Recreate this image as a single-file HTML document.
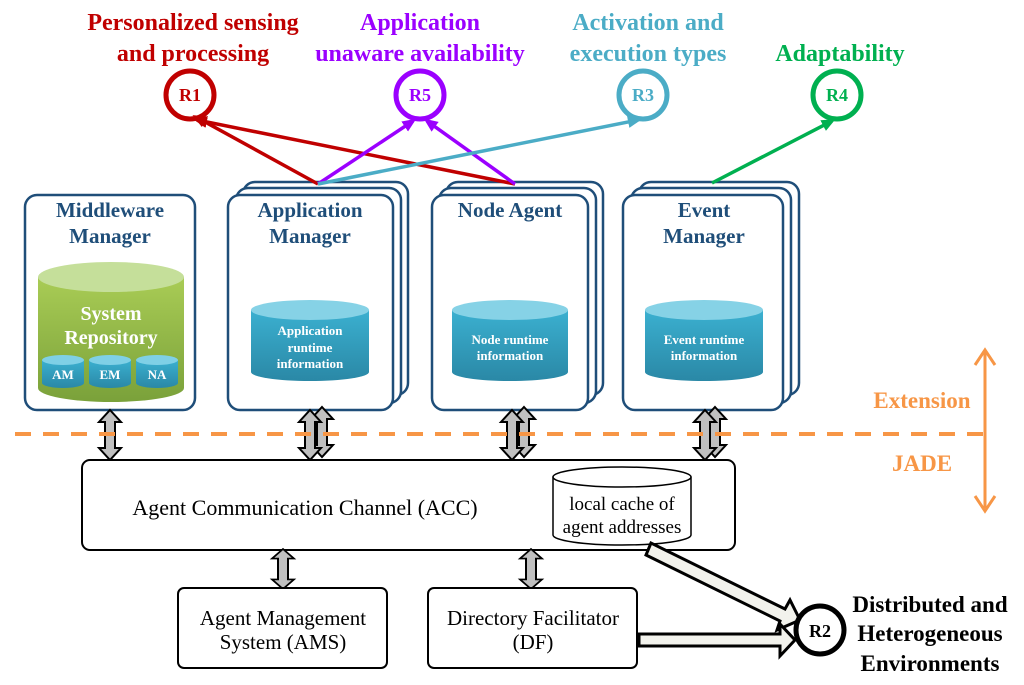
<!DOCTYPE html>
<html><head><meta charset="utf-8"><style>body{margin:0;background:#fff}svg{display:block}</style></head><body>
<svg width="1024" height="685" viewBox="0 0 1024 685" xmlns="http://www.w3.org/2000/svg" font-family="Liberation Serif, serif">
<defs>
<linearGradient id="g" x1="0" y1="0" x2="0" y2="1"><stop offset="0" stop-color="#a9cc55"/><stop offset="1" stop-color="#7aa13a"/></linearGradient>
<linearGradient id="b" x1="0" y1="0" x2="0" y2="1"><stop offset="0" stop-color="#3bb0d0"/><stop offset="1" stop-color="#2a88a6"/></linearGradient>
<marker id="ar" markerWidth="14" markerHeight="12" refX="10" refY="6" orient="auto" markerUnits="userSpaceOnUse" viewBox="0 0 14 12"><path d="M0,0 L14,6 L0,12 z" fill="context-stroke"/></marker>
<g id="dbl"><path d="M0,-25 L11,-13 L5,-13 L5,13 L11,13 L0,25 L-11,13 L-5,13 L-5,-13 L-11,-13 Z" fill="#c0c0c0" stroke="#000" stroke-width="2"/></g>
</defs>
<g font-weight="bold" font-size="24" text-anchor="middle">
<text x="193" y="30" fill="#c00000">Personalized sensing</text>
<text x="193" y="61" fill="#c00000">and processing</text>
<text x="420" y="30" fill="#9b00ff">Application</text>
<text x="420" y="61" fill="#9b00ff">unaware availability</text>
<text x="648" y="30" fill="#4bacc6">Activation and</text>
<text x="648" y="61" fill="#4bacc6">execution types</text>
<text x="840" y="61" fill="#00b050">Adaptability</text>
</g>
<g fill="none" stroke-width="5">
<circle cx="190" cy="95" r="24" stroke="#c00000"/>
<circle cx="420" cy="95" r="24" stroke="#9b00ff"/>
<circle cx="643" cy="95" r="24" stroke="#4bacc6"/>
<circle cx="837" cy="95" r="24" stroke="#00b050"/>
</g>
<g font-weight="bold" font-size="18" text-anchor="middle">
<text x="190" y="101" fill="#c00000">R1</text>
<text x="420" y="101" fill="#9b00ff">R5</text>
<text x="643" y="101" fill="#4bacc6">R3</text>
<text x="837" y="101" fill="#00b050">R4</text>
</g>
<g fill="#fff" stroke="#1f4e79" stroke-width="2.5">
<rect x="25" y="195" width="170" height="215" rx="12"/>
<rect x="243" y="182" width="165" height="213" rx="12"/>
<rect x="236" y="188" width="165" height="215" rx="12"/>
<rect x="228" y="195" width="165" height="215" rx="12"/>
<rect x="446" y="182" width="157" height="213" rx="12"/>
<rect x="439" y="188" width="157" height="215" rx="12"/>
<rect x="432" y="195" width="156" height="215" rx="12"/>
<rect x="639" y="182" width="160" height="213" rx="12"/>
<rect x="631" y="188" width="160" height="215" rx="12"/>
<rect x="623" y="195" width="160" height="215" rx="12"/>
</g>
<g stroke-width="3.5" fill="none">
<line x1="318" y1="184" x2="196" y2="117" stroke="#c00000" marker-end="url(#ar)"/>
<line x1="515" y1="184" x2="197" y2="120" stroke="#c00000" marker-end="url(#ar)"/>
<line x1="318" y1="184" x2="413" y2="121" stroke="#9b00ff" marker-end="url(#ar)"/>
<line x1="515" y1="184" x2="427" y2="121" stroke="#9b00ff" marker-end="url(#ar)"/>
<line x1="318" y1="184" x2="638" y2="120" stroke="#4bacc6" marker-end="url(#ar)"/>
<line x1="712" y1="183" x2="832" y2="121" stroke="#00b050" marker-end="url(#ar)"/>
</g>
<g font-weight="bold" font-size="21" fill="#1f4e79" text-anchor="middle">
<text x="110" y="217">Middleware</text><text x="110" y="243">Manager</text>
<text x="310" y="217">Application</text><text x="310" y="243">Manager</text>
<text x="510" y="217">Node Agent</text>
<text x="704" y="217">Event</text><text x="704" y="243">Manager</text>
</g>
<path d="M38,277 L38,388 A73,14 0 0 0 184,388 L184,277" fill="url(#g)"/>
<ellipse cx="111" cy="277" rx="73" ry="15" fill="#c5df9a"/>
<text x="111" y="320" text-anchor="middle" font-weight="bold" font-size="20" fill="#fff">System</text>
<text x="111" y="344" text-anchor="middle" font-weight="bold" font-size="20" fill="#fff">Repository</text>
<g font-weight="bold" font-size="13" fill="#fff" text-anchor="middle">
<path d="M42,360 L42,383 A21,5 0 0 0 84,383 L84,360Z" fill="url(#b)"/><ellipse cx="63" cy="360" rx="21" ry="5" fill="#7fd0e6"/><text x="63" y="379">AM</text>
<path d="M89,360 L89,383 A21,5 0 0 0 131,383 L131,360Z" fill="url(#b)"/><ellipse cx="110" cy="360" rx="21" ry="5" fill="#7fd0e6"/><text x="110" y="379">EM</text>
<path d="M136,360 L136,383 A21,5 0 0 0 178,383 L178,360Z" fill="url(#b)"/><ellipse cx="157" cy="360" rx="21" ry="5" fill="#7fd0e6"/><text x="157" y="379">NA</text>
</g>
<g font-weight="bold" font-size="13" fill="#fff" text-anchor="middle">
<path d="M251,310 L251,372 A59,9 0 0 0 369,372 L369,310Z" fill="url(#b)"/><ellipse cx="310" cy="310" rx="59" ry="10" fill="#86d2e6"/>
<text x="310" y="335">Application</text><text x="310" y="352">runtime</text><text x="310" y="368">information</text>
<path d="M452,310 L452,372 A58,9 0 0 0 568,372 L568,310Z" fill="url(#b)"/><ellipse cx="510" cy="310" rx="58" ry="10" fill="#86d2e6"/>
<text x="510" y="344">Node runtime</text><text x="510" y="360">information</text>
<path d="M645,310 L645,372 A59,9 0 0 0 763,372 L763,310Z" fill="url(#b)"/><ellipse cx="704" cy="310" rx="59" ry="10" fill="#86d2e6"/>
<text x="704" y="344">Event runtime</text><text x="704" y="360">information</text>
</g>
<use href="#dbl" x="322" y="432"/><use href="#dbl" x="524" y="432"/><use href="#dbl" x="715" y="432"/>
<use href="#dbl" x="110" y="435"/><use href="#dbl" x="310" y="435"/><use href="#dbl" x="512" y="435"/><use href="#dbl" x="705" y="435"/>
<line x1="15" y1="434" x2="985" y2="434" stroke="#f79646" stroke-width="4" stroke-dasharray="16,12"/>
<line x1="985" y1="352" x2="985" y2="508" stroke="#f79646" stroke-width="3"/>
<path d="M975,365 L985,350 L995,365 M975,496 L985,511 L995,496" fill="none" stroke="#f79646" stroke-width="3"/>
<text x="922" y="408" text-anchor="middle" font-weight="bold" font-size="23" fill="#f79646">Extension</text>
<text x="922" y="471" text-anchor="middle" font-weight="bold" font-size="23" fill="#f79646">JADE</text>
<rect x="82" y="460" width="653" height="90" rx="8" fill="#fff" stroke="#000" stroke-width="2"/>
<text x="305" y="515" text-anchor="middle" font-size="22">Agent Communication Channel (ACC)</text>
<path d="M553,477 L553,535 A69,10 0 0 0 691,535 L691,477" fill="#fff" stroke="#000" stroke-width="1.5"/>
<ellipse cx="622" cy="477" rx="69" ry="10" fill="#fff" stroke="#000" stroke-width="1.5"/>
<text x="622" y="510" text-anchor="middle" font-size="19">local cache of</text>
<text x="622" y="533" text-anchor="middle" font-size="19">agent addresses</text>
<use href="#dbl" x="283" y="569" transform="translate(283,569) scale(1,0.8) translate(-283,-569)"/>
<use href="#dbl" x="531" y="569" transform="translate(531,569) scale(1,0.8) translate(-531,-569)"/>
<rect x="178" y="588" width="209" height="80" rx="6" fill="#fff" stroke="#000" stroke-width="2"/>
<text x="283" y="625" text-anchor="middle" font-size="21">Agent Management</text>
<text x="283" y="649" text-anchor="middle" font-size="21">System (AMS)</text>
<rect x="428" y="588" width="209" height="80" rx="6" fill="#fff" stroke="#000" stroke-width="2"/>
<text x="533" y="625" text-anchor="middle" font-size="21">Directory Facilitator</text>
<text x="533" y="649" text-anchor="middle" font-size="21">(DF)</text>
<path d="M651,543 L646,555 L780,621 L777,630 L800,620 L790,600 L785,609 Z" fill="#f2f2ec" stroke="#000" stroke-width="3"/>
<path d="M639,634 L780,634 L780,624 L795,640 L780,656 L780,646 L639,646 Z" fill="#f2f2ec" stroke="#000" stroke-width="3"/>
<circle cx="820" cy="630" r="24" fill="#fff" stroke="#000" stroke-width="5"/>
<text x="820" y="637" text-anchor="middle" font-weight="bold" font-size="18">R2</text>
<g font-weight="bold" font-size="23" text-anchor="middle">
<text x="930" y="612">Distributed and</text>
<text x="930" y="641">Heterogeneous</text>
<text x="930" y="671">Environments</text>
</g>
</svg>
</body></html>
